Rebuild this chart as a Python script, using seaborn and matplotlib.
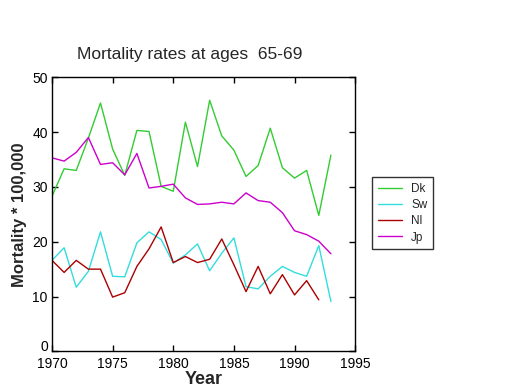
import numpy as np
import pandas as pd
import seaborn as sns
import matplotlib.pyplot as plt
import matplotlib.transforms as mtransforms

# --- dados ---
anos = list(range(1970, 1994))
dk = [28.3, 33.3, 33.0, 38.9, 45.3, 36.9, 32.1, 40.3, 40.1, 30.1, 29.2, 41.8,
      33.7, 45.8, 39.3, 36.7, 31.9, 33.9, 40.7, 33.5, 31.6, 33.0, 24.8, 35.8]
sw = [16.6, 18.9, 11.7, 14.6, 21.8, 13.7, 13.6, 19.8, 21.8, 20.4, 16.1, 17.6,
      19.6, 14.7, 17.9, 20.7, 11.8, 11.4, 13.7, 15.5, 14.4, 13.7, 19.3, 9.1]
nl = [16.6, 14.4, 16.6, 15.0, 15.0, 9.9, 10.7, 15.5, 18.7, 22.7, 16.2, 17.3,
      16.2, 16.8, 20.5, 15.8, 10.9, 15.5, 10.5, 14.0, 10.3, 12.9, 9.4, np.nan]
jp = [35.3, 34.7, 36.3, 39.0, 34.1, 34.4, 32.2, 36.1, 29.8, 30.1, 30.5, 28.0,
      26.8, 26.9, 27.2, 26.9, 28.9, 27.5, 27.2, 25.3, 22.0, 21.3, 20.1, 17.8]
paises = ["Dk", "Sw", "Nl", "Jp"]
cores = ["#33cc33", "#33dddd", "#aa0000", "#cc00cc"]

df = pd.DataFrame({"ano": anos, "Dk": dk, "Sw": sw, "Nl": nl, "Jp": jp})
df_longo = df.melt(id_vars="ano", var_name="pais", value_name="taxa").dropna()

sns.set_theme(style="ticks")
plt.rcParams['font.family'] = ['Liberation Sans', 'DejaVu Sans']

fig = plt.figure(figsize=(5.2, 3.9), dpi=100)
ax = fig.add_axes([0.1, 0.099, 0.583, 0.703])

sns.lineplot(data=df_longo, x="ano", y="taxa", hue="pais", hue_order=paises,
             palette=dict(zip(paises, cores)), linewidth=1.0, ax=ax)

ax.set_xlim(1970, 1995)
ax.set_ylim(0, 50)
ax.set_xticks(range(1970, 1996, 5))
ax.set_yticks(range(0, 51, 10))
ax.tick_params(direction='in', length=4, width=1, top=True, right=True,
               labelsize=10, colors='black')
ax.tick_params(axis='x', pad=4)
ax.tick_params(axis='y', pad=3)
for s in ax.spines.values():
    s.set_visible(True)
    s.set_color('black')
    s.set_linewidth(1)

# o "0" fica um pouco acima do eixo, como no original
rotulo_zero = ax.get_yticklabels()[0]
rotulo_zero.set_transform(rotulo_zero.get_transform() +
                          mtransforms.ScaledTranslation(0, 4 / 72, fig.dpi_scale_trans))

ax.set_xlabel("Year", fontsize=13, weight='bold', labelpad=0)
ax.set_ylabel("Mortality * 100,000", fontsize=12, weight='bold', labelpad=4)
fig.text(190 / 520, 1 - 55 / 390, "Mortality rates at ages  65-69",
         ha='center', va='center', fontsize=12.5)

leg = ax.legend(loc='upper left', bbox_to_anchor=(1.056, 0.635), frameon=True,
                fancybox=False, edgecolor='black', fontsize=8.5,
                handlelength=2.0, borderpad=0.5, labelspacing=0.35,
                handletextpad=0.8, borderaxespad=0)
leg.get_frame().set_linewidth(1)

plt.savefig("out.png", dpi=100)
plt.close()
